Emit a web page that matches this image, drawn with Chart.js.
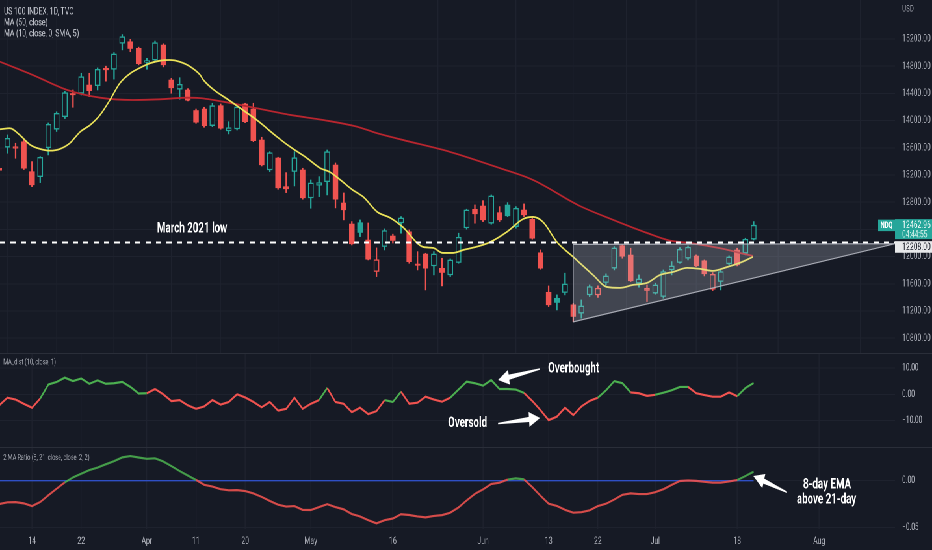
<!DOCTYPE html>
<html><head><meta charset="utf-8">
<script src="https://cdn.jsdelivr.net/npm/chart.js@4.4.1/dist/chart.umd.min.js"></script>
<style>
html,body{margin:0;padding:0;background:#161a25;overflow:hidden;width:932px;height:550px;}
#wrap{position:absolute;left:0;top:0;width:1434px;height:550px;transform:scaleX(0.65);transform-origin:0 0;}
canvas{position:absolute;left:0;}
.sep{position:absolute;left:0;width:1434px;height:1px;background:#2a2e39;}
</style></head><body>
<div id="wrap">
<canvas id="cMain" width="1434" height="353" style="top:0px"></canvas>
<canvas id="cDist" width="1434" height="94" style="top:353px"></canvas>
<canvas id="cRatio" width="1434" height="103" style="top:447px"></canvas>
<div class="sep" style="top:353px"></div>
<div class="sep" style="top:447px"></div>
</div>
<script>
// ---------------- DATA ----------------
const firstIndex = -4; // bar index of the first date (Mar 14 = 0)
const dates = ['Mar 8','Mar 9','Mar 10','Mar 11','Mar 14','Mar 15','Mar 16','Mar 17','Mar 18','Mar 21','Mar 22','Mar 23','Mar 24','Mar 25','Mar 28','Mar 29','Mar 30','Mar 31',
'Apr 1','Apr 4','Apr 5','Apr 6','Apr 7','Apr 8','Apr 11','Apr 12','Apr 13','Apr 14','Apr 18','Apr 19','Apr 20','Apr 21','Apr 22','Apr 25','Apr 26','Apr 27','Apr 28','Apr 29',
'May 2','May 3','May 4','May 5','May 6','May 9','May 10','May 11','May 12','May 13','May 16','May 17','May 18','May 19','May 20','May 23','May 24','May 25','May 26','May 27','May 31',
'Jun 1','Jun 2','Jun 3','Jun 6','Jun 7','Jun 8','Jun 9','Jun 10','Jun 13','Jun 14','Jun 15','Jun 16','Jun 17','Jun 21','Jun 22','Jun 23','Jun 24','Jun 27','Jun 28','Jun 29','Jun 30',
'Jul 1','Jul 5','Jul 6','Jul 7','Jul 8','Jul 11','Jul 12','Jul 13','Jul 14','Jul 15','Jul 18','Jul 19','Jul 20'];

const openP = [13300,13608,13610,13690,13250,13176,13600,13873,14058,14395,14402,14524,14514,14770,14755,15137,15160,15063,14860,14891,15112,14597,14461,14450,14150,14171,13926,14220,13848,13877,14245,14171,13715,13274,13451,13030,13250,13274,12863,13050,13102,13348,12789,12480,12500,12245,11780,12148,12304,12495,12367,11880,12039,11863,11829,11731,11912,12422,12697,12745,12491,12647,12760,12441,12686,12549,12058,11477,11389,11471,11290,11168,11437,11437,11618,11829,12163,12025,11609,11535,11462,11412,11804,11912,11976,12010,11937,11521,11633,11893,12098,12050,12256];
const highP = [13480,13789,13667,13720,13397,13470,13965,14130,14430,14450,14696,14696,14775,14800,15000,15265,15195,15080,14916,15170,15130,14622,14631,14470,14170,14196,14255,14245,13984,14230,14255,14255,13755,13543,13461,13235,13543,13299,13127,13176,13568,13377,12936,12515,12539,12495,12128,12407,12330,12588,12392,12073,12049,12073,11976,11966,12344,12697,12760,12823,12907,12735,12794,12735,12775,12588,12098,11569,11437,11756,11314,11363,11583,11570,11746,12147,12172,12123,11731,11583,11609,11804,11927,12133,12157,12025,11951,11765,11804,12010,12123,12270,12515];
const lowP = [13060,13520,13446,13280,13029,13088,13495,13840,14030,14196,14377,14352,14450,14580,14610,15040,15013,14820,14755,14880,14790,14402,14314,14290,13960,13902,13911,13873,13804,13862,13970,13690,13333,13250,12990,12941,13039,12844,12711,12882,12907,12716,12540,12172,12294,11951,11706,12098,12200,12344,11902,11804,11510,11731,11569,11706,11903,12403,12491,12515,12476,12515,12588,12417,12588,12256,11814,11265,11216,11437,11044,11094,11412,11400,11583,11804,11976,11633,11550,11339,11447,11388,11731,11903,11951,11853,11716,11500,11510,11878,11863,12025,12245];
const closeP = [13270,13740,13594,13300,13054,13461,13945,14108,14411,14378,14646,14440,14755,14745,14980,15234,15060,14835,14875,15146,14818,14480,14534,14300,13975,13926,14220,13888,13896,14200,13984,13705,13348,13528,13010,12995,13455,12863,13083,13088,13543,12844,12686,12186,12353,11962,11955,12383,12236,12569,11926,11870,11829,12039,11765,11951,12285,12686,12628,12540,12892,12540,12598,12711,12613,12270,11829,11290,11324,11598,11118,11275,11559,11535,11716,12128,12005,11643,11672,11500,11583,11780,11863,12108,12138,11863,11746,11740,11780,11995,11877,12256,12462.96];

// MA (50, close): bar position / value
const ma50X = [-3.9,0.1,4.3,8.3,12.3,15.6,18.9,20.5,23.3,27.4,31.5,35.5,39.6,42,44.9,51,57,61.1,66.8,70.9,75,77.8,80.2,84.3,86.3,87.9];
const ma50Y = [14866,14671,14450,14337,14303,14313,14337,14330,14278,14181,14083,14009,13911,13818,13725,13539,13303,13127,12745,12539,12348,12235,12201,12113,12054,12010];
// MA (10, close, 0, SMA, 5)
const maFastX = [-3.9,-2.7,-1.5,-0.2,1,2.2,3.4,4.6,5.9,7.1,8.3,9.5,10.7,12,13.2,14.4,15.6,16.8,18,19.3,20.5,20.9,24.5,27.4,29.9,31.5,33.5,35.1,36.3,37.6,39.1,40.4,42.1,43.7,45.2,47.7,48.9,50.1,51.3,52.6,54.6,55.9,57.9,59.9,61.1,62.3,64,66,66.8,68.4,70.1,71.7,73.3,75,76.6,78.2,79.9,81.5,83,84.8,86.3,87.9];
const maFastY = [13873,13887,13789,13642,13583,13558,13583,13667,13838,13936,14083,14303,14549,14696,14778,14843,14881,14891,14866,14793,14671,14597,14259,14009,13759,13612,13451,13304,13245,13127,12980,12877,12657,12569,12436,12142,12128,12054,12054,12098,12157,12216,12363,12554,12583,12510,12216,11995,11907,11731,11554,11540,11584,11613,11731,11775,11834,11819,11790,11848,11907,11995];

// MA_dist (10, close, 1), one value per bar
const maDist = [-4.2,-1.3,-2.0,-3.6,-5.1,-1.6,3.7,4.7,6.3,5.0,6.0,4.0,5.3,4.0,4.2,4.7,2.8,0.3,0.4,2.0,0.0,-2.6,-2.2,-4.2,-5.5,-4.6,-2.2,-3.9,-2.9,0.0,-1.2,-2.9,-4.9,-2.9,-6.2,-5.5,-1.3,-5.5,-3.6,-2.2,2.4,-2.9,-3.6,-6.8,-5.1,-7.5,-6.4,-2.2,-2.9,1.0,-3.6,-3.2,-0.9,-2.0,-2.8,-1.3,1.8,4.8,4.2,3.3,5.4,2.0,2.0,1.8,0.5,-2.5,-6.0,-9.8,-8.5,-5.1,-7.9,-4.6,-2.5,-1.3,1.5,5.0,4.2,0.7,0.4,-0.6,-0.2,0.6,1.5,2.8,2.8,0.4,-0.3,-0.9,-0.9,0.7,-0.7,2.4,4.3];
// bar ranges where the MA_dist line is drawn green (segment start bars)
const distGreenRanges = [[1,13],[35,35],[43,44],[51,59],[69,72],[76,79],[86,87]];
// 2 MA Ratio (8, 21, close, close, 2, 2), one value per bar
const maRatio = [-0.0248,-0.0230,-0.0228,-0.0241,-0.0270,-0.0227,-0.0155,-0.0085,-0.0018,0.0035,0.0075,0.0113,0.0140,0.0175,0.0208,0.0248,0.0262,0.0247,0.0233,0.0238,0.0205,0.0155,0.0103,0.0055,0.0008,-0.0044,-0.0062,-0.0090,-0.0102,-0.0100,-0.0110,-0.0135,-0.0172,-0.0215,-0.0255,-0.0275,-0.0270,-0.0310,-0.0312,-0.0280,-0.0250,-0.0280,-0.0305,-0.0355,-0.0380,-0.0420,-0.0454,-0.0420,-0.0402,-0.0357,-0.0365,-0.0380,-0.0390,-0.0375,-0.0366,-0.0340,-0.0285,-0.0210,-0.0140,-0.0092,-0.0035,-0.0021,0.0012,0.0025,0.0014,-0.0068,-0.0160,-0.0245,-0.0268,-0.0310,-0.0340,-0.0335,-0.0315,-0.0270,-0.0245,-0.0200,-0.0150,-0.0135,-0.0142,-0.0142,-0.0122,-0.0090,-0.0045,-0.0003,0.0002,-0.0002,-0.0012,-0.0021,-0.0021,-0.0008,0.0007,0.0050,0.0096];

const march2021Low = 12208;
const lastPrice = 12462.96;
const countdown = '04:44:55';
const triangle = [[66,12180],[66,11040],[105.24,12190]];

const xTickIndex = [0,6,14,20,26,34,44,55,63,69,76,86,96];
const xTickLabels = ['14','22','Apr','11','20','May','16','Jun','13','22','Jul','18','Aug'];
const priceTicks = [10800,11200,11600,12000,12400,12800,13200,13600,14000,14400,14800,15200];
const priceTickLabels = ['10800.00','11200.00','11600.00','12000.00','','12800.00','13200.00','13600.00','14000.00','14400.00','14800.00','15200.00'];
const distTicks = [10,0,-10];
const distTickLabels = ['10.00','0.00','\u221210.00'];
const ratioTicks = [0,-0.05];
const ratioTickLabels = ['0.00','\u22120.05'];

// ---------------- STYLE ----------------
const BG = '#161a25', GRID = '#1e222e', TXT = '#b2b5be';
const UP = '#26a69a', DN = '#ef5350', GREEN = '#4caf50', RED = '#f05350';
const FONT = 'Roboto, "Liberation Sans", Arial, sans-serif';
const AXIS_W = 57, X_MIN = -3.9, X_MAX = 105.24;

const bars = closeP.map((_, i) => firstIndex + i);
const candleColor = closeP.map((c, i) => (i === 0 ? c >= openP[i] : c >= closeP[i - 1]) ? UP : DN);
const candleFill = closeP.map((c, i) => c < openP[i] ? candleColor[i] : BG);
const isDistGreen = b => distGreenRanges.some(r => b >= r[0] && b <= r[1]);

function xAxis(show) {
  return {
    type: 'linear', min: X_MIN, max: X_MAX, offset: false,
    grid: { color: GRID, lineWidth: 1.4, drawTicks: false },
    border: { display: false },
    ticks: { display: show, color: TXT, font: { family: FONT, size: 10.5 }, padding: 6, autoSkip: false, maxRotation: 0,
      callback: v => xTickLabels[xTickIndex.indexOf(v)] },
    afterBuildTicks: s => { s.ticks = xTickIndex.map(v => ({ value: v })); },
    afterFit: s => { s.height = show ? 21 : 0; s.paddingLeft = 0; s.paddingRight = 0; }
  };
}
function yAxis(min, max, ticks, labels, size) {
  return {
    type: 'linear', position: 'right', min, max,
    grid: { color: GRID, lineWidth: 1, drawTicks: false },
    border: { display: false },
    ticks: { color: TXT, font: { family: FONT, size: size }, padding: 11, autoSkip: false,
      callback: v => labels[ticks.indexOf(v)] },
    afterBuildTicks: s => { s.ticks = ticks.map(v => ({ value: v })); },
    afterFit: s => { s.width = AXIS_W; s.paddingTop = 0; s.paddingBottom = 0; }
  };
}

function drawArrow(ctx, tx, ty, hx, hy) {
  const dx = hx - tx, dy = hy - ty, L = Math.hypot(dx, dy);
  const ux = dx / L, uy = dy / L, nx = -uy, ny = ux;
  const hl = 17, hw = 7.5, sw1 = 2.6, sw0 = 0.7;
  const bx = hx - ux * hl, by = hy - uy * hl;
  ctx.beginPath();
  ctx.moveTo(tx + nx * sw0, ty + ny * sw0);
  ctx.lineTo(bx + nx * sw1, by + ny * sw1);
  ctx.lineTo(bx + nx * hw, by + ny * hw);
  ctx.lineTo(hx, hy);
  ctx.lineTo(bx - nx * hw, by - ny * hw);
  ctx.lineTo(bx - nx * sw1, by - ny * sw1);
  ctx.lineTo(tx - nx * sw0, ty - ny * sw0);
  ctx.closePath();
  ctx.fillStyle = '#ffffff';
  ctx.fill();
}

function drawItems(chart, items) {
  const ctx = chart.ctx, xs = chart.scales.x, ys = chart.scales.y, a = chart.chartArea;
  const px = v => xs.getPixelForValue(v), py = v => ys.getPixelForValue(v);
  for (const it of items) {
    ctx.save();
    if (it.kind === 'poly') {
      ctx.beginPath(); ctx.rect(a.left, a.top, a.right - a.left, a.bottom - a.top); ctx.clip();
      ctx.beginPath();
      it.pts.forEach((p, k) => k ? ctx.lineTo(px(p[0]), py(p[1])) : ctx.moveTo(px(p[0]), py(p[1])));
      ctx.closePath();
      ctx.fillStyle = it.fill; ctx.fill();
      ctx.strokeStyle = it.stroke; ctx.lineWidth = it.lw; ctx.stroke();
    } else if (it.kind === 'text') {
      ctx.font = it.font; ctx.fillStyle = it.color; ctx.textAlign = it.align || 'left'; ctx.textBaseline = 'middle';
      ctx.fillText(it.text, px(it.x), py(it.y));
    } else if (it.kind === 'arrow') {
      drawArrow(ctx, px(it.from[0]), py(it.from[1]), px(it.to[0]), py(it.to[1]));
    } else if (it.kind === 'label') {
      ctx.font = it.font; ctx.fillStyle = it.color; ctx.textAlign = 'left'; ctx.textBaseline = 'middle';
      ctx.fillText(it.text, (it.axis ? a.right : a.left) + it.dx, it.y);
    } else if (it.kind === 'tag') {
      const yc = py(it.value) + it.shift;
      const x0 = a.right + it.dx;
      ctx.fillStyle = it.bg;
      ctx.fillRect(x0, yc + it.top, it.w, it.h);
      ctx.textBaseline = 'middle';
      for (const l of it.lines) {
        ctx.font = l.font; ctx.fillStyle = l.color; ctx.textAlign = l.align;
        ctx.fillText(l.text, x0 + l.dx, yc + l.dy);
      }
    }
    ctx.restore();
  }
}
function makeNotes(overlay, items) {
  return {
    id: 'notesDraw',
    afterDatasetsDraw(chart) { drawItems(chart, overlay); },
    afterDraw(chart) { drawItems(chart, items); }
  };
}

const ANNOT = 'bold 15px ' + FONT;
const base = {
  animation: false, responsive: false, devicePixelRatio: 2, events: [],
  layout: { padding: 0 }
};
const noLegend = { legend: { display: false }, tooltip: { enabled: false } };

// ---------------- MAIN PRICE PANE ----------------
const mainOverlay = [
  { kind: 'poly', pts: triangle, fill: 'rgba(205,208,216,0.24)', stroke: 'rgba(190,193,202,0.85)', lw: 1.2 }
];
const mainItems = [
  { kind: 'label', text: 'US 100 INDEX, 1D, TVC', dx: 6, y: 12, font: '10.5px ' + FONT, color: '#c3c6ce' },
  { kind: 'label', text: 'MA (50, close)', dx: 6, y: 23, font: '10.5px ' + FONT, color: '#c3c6ce' },
  { kind: 'label', text: 'MA (10, close, 0, SMA, 5)', dx: 6, y: 34, font: '10.5px ' + FONT, color: '#c3c6ce' },
  { kind: 'label', axis: true, text: 'USD', dx: 11, y: 9, font: '9.5px ' + FONT, color: TXT },
  { kind: 'text', text: 'March 2021 low', x: 15.24, y: 12407, font: ANNOT, color: '#ffffff' },
  { kind: 'tag', value: lastPrice, shift: 0, dx: -26, top: -5.5, w: 26, h: 11.5, bg: UP,
    lines: [{ text: 'NDQ', dx: 13, dy: 0.5, align: 'center', font: 'bold 9px ' + FONT, color: '#ffffff' }] },
  { kind: 'tag', value: lastPrice, shift: 0, dx: 0, top: -6, w: AXIS_W, h: 20, bg: UP,
    lines: [{ text: lastPrice.toFixed(2), dx: 11, dy: 0.5, align: 'left', font: '10.5px ' + FONT, color: '#ffffff' },
            { text: countdown, dx: 11, dy: 9.8, align: 'left', font: '10px ' + FONT, color: '#cdeee8' }] },
  { kind: 'tag', value: march2021Low, shift: 4.5, dx: 0, top: -5.8, w: AXIS_W, h: 11.6, bg: '#e8e9eb',
    lines: [{ text: march2021Low.toFixed(2), dx: 11, dy: 0.5, align: 'left', font: '10.5px ' + FONT, color: '#131722' }] }
];
new Chart(document.getElementById('cMain'), {
  type: 'bar',
  data: { datasets: [
    { type: 'line', label: 'March 2021 low', data: [{ x: X_MIN, y: march2021Low }, { x: X_MAX, y: march2021Low }],
      borderColor: '#ffffff', borderWidth: 2, borderDash: [8, 8], pointRadius: 0, order: 0 },
    { type: 'line', label: 'MA (10, close, 0, SMA, 5)', data: maFastX.map((x, i) => ({ x, y: maFastY[i] })),
      borderColor: '#ece35a', borderWidth: 1.8, pointRadius: 0, cubicInterpolationMode: 'monotone', order: 1 },
    { type: 'line', label: 'MA (50, close)', data: ma50X.map((x, i) => ({ x, y: ma50Y[i] })),
      borderColor: '#b8262f', borderWidth: 1.8, pointRadius: 0, cubicInterpolationMode: 'monotone', order: 2 },
    { type: 'bar', label: 'body', data: bars.map((x, i) => ({ x, y: [openP[i], closeP[i]] })),
      backgroundColor: candleFill, borderColor: candleColor, borderWidth: 1.4, borderSkipped: false,
      barThickness: 8, minBarLength: 1.5, grouped: false, order: 3 },
    { type: 'bar', label: 'wick', data: bars.map((x, i) => ({ x, y: [lowP[i], highP[i]] })),
      backgroundColor: candleColor, borderWidth: 0, barThickness: 1.6, grouped: false, order: 4 }
  ]},
  options: Object.assign({}, base, {
    scales: { x: xAxis(false), y: yAxis(10582.4, 15773.5, priceTicks, priceTickLabels, 10.5) },
    plugins: noLegend
  }),
  plugins: [makeNotes(mainOverlay, mainItems)]
});

// ---------------- MA_dist PANE ----------------
const distItems = [
  { kind: 'label', text: 'MA_dist (10, close, 1)', dx: 5, y: 9.5, font: '8.5px ' + FONT, color: '#a3a6af' },
  { kind: 'arrow', from: [61.95, 9.6], to: [56.83, 5.43] },
  { kind: 'arrow', from: [56.83, -11.1], to: [61.95, -9.0] },
  { kind: 'text', text: 'Overbought', x: 62.93, y: 9.6, font: ANNOT, color: '#ffffff' },
  { kind: 'text', text: 'Oversold', x: 50.73, y: -10.9, font: ANNOT, color: '#ffffff' }
];
new Chart(document.getElementById('cDist'), {
  type: 'line',
  data: { datasets: [
    { label: 'MA_dist', data: bars.map((x, i) => ({ x, y: maDist[i] })), borderColor: RED, borderWidth: 2.2,
      pointRadius: 0, tension: 0,
      segment: { borderColor: c => isDistGreen(bars[c.p0DataIndex]) ? GREEN : RED } }
  ]},
  options: Object.assign({}, base, {
    scales: { x: xAxis(false), y: yAxis(-20.0, 15.67, distTicks, distTickLabels, 10) },
    plugins: noLegend
  }),
  plugins: [makeNotes([], distItems)]
});

// ---------------- 2 MA Ratio PANE ----------------
const ratioItems = [
  { kind: 'label', text: '2 MA Ratio (8, 21, close, close, 2, 2)', dx: 5, y: 11, font: '8.5px ' + FONT, color: '#a3a6af' },
  { kind: 'arrow', from: [92.07, -0.01234], to: [87.96, 0.0050] },
  { kind: 'text', text: '8-day EMA', x: 96.95, y: -0.00457, align: 'center', font: ANNOT, color: '#ffffff' },
  { kind: 'text', text: 'above 21-day', x: 96.89, y: -0.02053, align: 'center', font: ANNOT, color: '#ffffff' }
];
new Chart(document.getElementById('cRatio'), {
  type: 'line',
  data: { datasets: [
    { label: 'ratio', data: bars.map((x, i) => ({ x, y: maRatio[i] })), borderColor: RED, borderWidth: 2.2,
      pointRadius: 0, tension: 0, order: 0,
      segment: { borderColor: c => (c.p0.parsed.y + c.p1.parsed.y) / 2 > 0 ? 'rgba(76,175,80,0.88)' : 'rgba(240,83,80,0.88)' } },
    { label: 'zero', data: bars.map(x => ({ x, y: 0 })), borderColor: '#2f4fc4', borderWidth: 1.4,
      pointRadius: 0, order: 1 }
  ]},
  options: Object.assign({}, base, {
    scales: { x: xAxis(true), y: yAxis(-0.05138, 0.03585, ratioTicks, ratioTickLabels, 10) },
    plugins: noLegend
  }),
  plugins: [makeNotes([], ratioItems)]
});
</script>
</body></html>
